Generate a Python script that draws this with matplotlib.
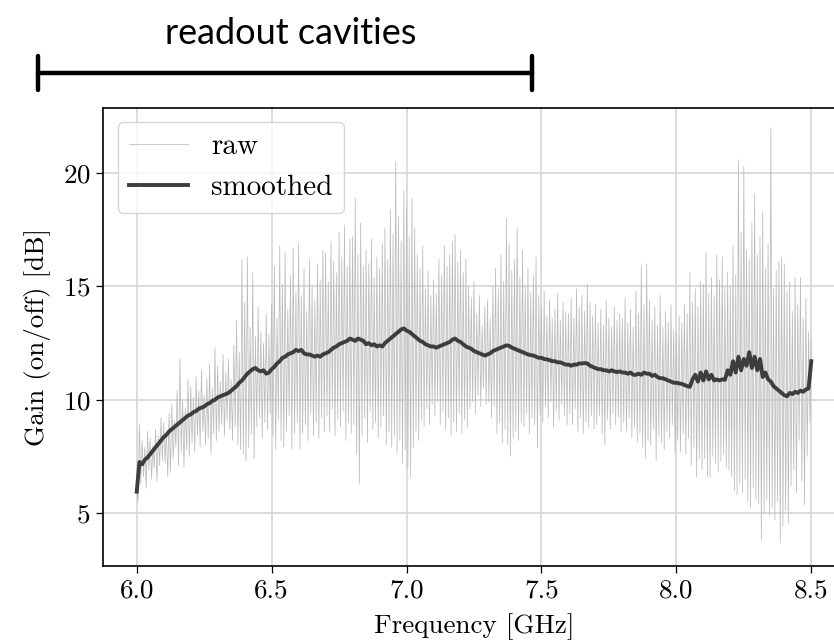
import numpy as np
import matplotlib
matplotlib.use("Agg")
import matplotlib.pyplot as plt
from matplotlib.lines import Line2D

plt.rcParams["font.family"] = "serif"
plt.rcParams["font.serif"] = ["cmr10"]
plt.rcParams["axes.formatter.use_mathtext"] = True
plt.rcParams["mathtext.fontset"] = "cm"

# raw trace: spike tops (every 10 MHz from 6.00 GHz) and troughs (halfway between)
raw_hi = [
    6.0, 8.9, 8.2, 7.9, 8.6, 8.3, 8.0, 8.7, 8.4, 9.2,
    9.0, 8.6, 9.4, 9.8, 9.1, 10.4, 11.8, 10.0, 9.6, 10.9,
    10.6, 10.1, 11.0, 10.4, 11.3, 10.2, 10.9, 11.6, 10.5, 12.3,
    11.5, 10.8, 12.0, 11.2, 11.8, 10.9, 12.4, 13.5, 12.1, 16.2,
    14.3, 16.3, 13.2, 15.6, 12.8, 14.1, 13.0, 12.5, 13.8, 12.9,
    14.2, 15.9, 13.6, 16.8, 15.1, 16.5, 14.0, 15.5, 16.7, 14.8,
    16.9, 14.6, 15.8, 13.9, 16.2, 15.0, 14.4, 16.0, 15.3, 16.6,
    16.5, 15.2, 17.0, 16.1, 15.6, 17.4, 16.3, 17.7, 15.9, 17.1,
    17.2, 18.9, 16.4, 17.8, 15.9, 16.6, 16.0, 17.1, 15.4, 16.3,
    15.8, 16.9, 17.6, 16.2, 18.4, 17.3, 20.5, 18.1, 17.0, 19.2,
    18.5, 17.2, 18.9, 17.6, 16.4, 15.8, 16.8, 14.9, 15.7, 14.6,
    15.3, 14.7, 16.2, 15.5, 16.8, 15.9, 16.4, 17.0, 17.3, 16.1,
    16.6, 15.6, 16.2, 15.0, 14.5, 15.2, 13.8, 14.6, 13.3, 14.1,
    14.4, 13.6, 15.0, 15.8, 14.9, 16.4, 15.2, 18.0, 16.9, 15.7,
    16.2, 17.6, 15.4, 16.6, 15.0, 15.8, 14.7, 15.5, 16.3, 14.6,
    14.1, 14.8, 13.7, 14.4, 13.6, 14.0, 14.7, 13.5, 14.3, 13.9,
    13.8, 14.5, 13.6, 14.9, 14.1, 14.6, 13.9, 15.1, 14.3, 13.7,
    14.2, 13.4, 14.0, 13.3, 14.4, 13.6, 13.2, 14.1, 13.5, 13.8,
    13.6, 14.5, 13.4, 14.0, 13.2, 14.8, 13.8, 15.9, 14.2, 16.0,
    14.4, 13.5, 14.1, 13.3, 14.6, 13.2, 13.9, 13.4, 14.2, 13.1,
    13.0, 13.7, 13.4, 14.2, 13.8, 15.6, 14.3, 14.9, 14.1, 15.2,
    15.1, 16.5, 14.7, 15.4, 14.6, 16.4, 15.3, 16.3, 15.0, 15.6,
    15.0, 16.8, 15.5, 20.6, 17.4, 20.3, 16.6, 16.2, 17.8, 19.1,
    16.4, 17.2, 18.3, 15.8, 16.9, 22.0, 14.9, 15.7, 16.1, 16.3,
    16.0, 14.8, 15.2, 13.9, 15.4, 14.2, 15.4, 13.6, 14.5, 13.0,
    12.7,
]
raw_lo = [
    5.5, 6.3, 6.6, 6.1, 6.9, 6.5, 7.0, 6.4, 7.1, 7.3,
    7.2, 6.6, 6.8, 7.4, 7.9, 7.1, 7.7, 7.0, 7.8, 7.5,
    8.1, 7.7, 8.4, 7.9, 8.6, 8.0, 8.3, 7.6, 8.5, 8.2,
    8.6, 8.9, 8.4, 9.1, 8.7, 8.2, 8.8, 8.0, 7.8, 7.6,
    7.3, 7.9, 8.5, 7.4, 8.8, 9.2, 8.3, 9.0, 8.7, 9.4,
    8.4, 7.8, 9.1, 8.2, 7.9, 8.6, 9.3, 7.8, 8.5, 9.0,
    7.8, 8.5, 8.9, 8.2, 9.4, 8.4, 9.0, 8.3, 9.2, 8.6,
    9.3, 8.6, 9.6, 8.4, 9.1, 8.8, 9.5, 8.2, 9.0, 8.5,
    8.9, 7.6, 6.3, 8.4, 9.2, 8.1, 9.5, 8.7, 9.0, 8.3,
    8.8, 9.3, 8.0, 8.6, 7.9, 8.4, 7.6, 8.2, 7.2, 7.8,
    7.0, 6.6, 7.9, 8.6, 8.2, 9.1, 8.8, 9.6, 8.9, 9.8,
    9.3, 9.9, 8.9, 9.5, 8.7, 9.2, 8.4, 9.0, 8.6, 9.4,
    8.5, 9.1, 8.8, 9.6, 9.9, 9.4, 10.2, 9.7, 10.5, 9.8,
    9.9, 9.2, 9.7, 8.5, 9.0, 8.1, 8.7, 8.0, 7.5, 8.3,
    8.6, 8.2, 9.0, 8.8, 9.4, 8.5, 9.2, 8.9, 7.9, 9.3,
    9.0, 9.7, 9.2, 9.9, 8.8, 9.5, 9.1, 9.8, 9.3, 8.9,
    9.4, 8.9, 9.6, 8.6, 9.2, 8.5, 9.0, 8.8, 9.3, 8.7,
    8.9, 9.3, 8.5, 8.0, 9.1, 8.7, 9.4, 8.9, 9.2, 8.6,
    9.0, 8.6, 9.2, 8.3, 8.8, 8.1, 8.5, 7.9, 7.4, 8.2,
    8.0, 8.7, 7.3, 8.4, 8.1, 7.8, 8.6, 8.3, 8.9, 7.6,
    8.2, 7.7, 8.5, 7.6, 8.3, 7.1, 7.9, 6.6, 7.4, 6.9,
    7.4, 6.6, 6.55, 7.5, 7.2, 6.8, 7.3, 7.6, 7.0, 6.9,
    6.6, 6.0, 5.8, 6.3, 5.9, 6.5, 5.5, 5.2, 6.1, 5.6,
    5.4, 3.8, 5.0, 5.6, 4.9, 5.2, 4.7, 5.5, 3.68, 4.4,
    5.1, 4.56, 6.2, 6.9, 5.9, 8.2, 6.4, 5.36, 7.5, 9.0,
]

# smoothed trace, every 10 MHz from 6.00 GHz
smoothed = [
    5.94, 7.25, 7.15, 7.35, 7.45, 7.6, 7.75, 7.9, 8.05, 8.2,
    8.35, 8.45, 8.6, 8.7, 8.8, 8.9, 9.0, 9.1, 9.2, 9.3,
    9.35, 9.45, 9.5, 9.6, 9.65, 9.7, 9.8, 9.85, 9.95, 10.0,
    10.1, 10.15, 10.2, 10.25, 10.3, 10.4, 10.5, 10.6, 10.75, 10.85,
    11.0, 11.15, 11.25, 11.35, 11.4, 11.3, 11.25, 11.3, 11.15, 11.2,
    11.35, 11.45, 11.6, 11.7, 11.85, 11.9, 12.0, 12.05, 12.1, 12.2,
    12.15, 12.2, 12.05, 12.0, 12.0, 11.95, 11.9, 11.95, 11.9, 12.0,
    12.05, 12.1, 12.2, 12.3, 12.35, 12.45, 12.5, 12.55, 12.6, 12.7,
    12.65, 12.6, 12.7, 12.65, 12.6, 12.45, 12.5, 12.4, 12.45, 12.35,
    12.4, 12.35, 12.5, 12.6, 12.7, 12.8, 12.9, 13.0, 13.1, 13.15,
    13.05, 13.0, 12.9, 12.8, 12.7, 12.6, 12.55, 12.45, 12.4, 12.35,
    12.35, 12.3, 12.35, 12.4, 12.45, 12.5, 12.55, 12.65, 12.7, 12.6,
    12.55, 12.45, 12.35, 12.3, 12.25, 12.15, 12.1, 12.05, 12.0, 11.95,
    12.0, 12.05, 12.15, 12.2, 12.25, 12.3, 12.35, 12.4, 12.38, 12.3,
    12.25, 12.2, 12.15, 12.1, 12.05, 12.0, 11.97, 11.95, 11.9, 11.85,
    11.85, 11.8, 11.78, 11.75, 11.7, 11.7, 11.65, 11.65, 11.6, 11.55,
    11.55, 11.5, 11.55, 11.55, 11.6, 11.6, 11.62, 11.6, 11.5, 11.45,
    11.4, 11.35, 11.35, 11.3, 11.3, 11.25, 11.3, 11.25, 11.22, 11.25,
    11.2, 11.2, 11.15, 11.2, 11.1, 11.1, 11.15, 11.1, 11.2, 11.15,
    11.15, 11.05, 11.1, 11.0, 10.95, 10.95, 10.9, 10.85, 10.8, 10.75,
    10.75, 10.72, 10.7, 10.65, 10.6, 10.57, 10.9, 11.1, 10.8, 11.2,
    10.85, 11.25, 10.9, 11.1, 10.85, 10.9, 10.85, 10.9, 10.88, 11.3,
    11.1, 11.7, 11.2, 11.9, 11.3, 11.8, 11.5, 12.1, 11.4, 11.9,
    11.3, 11.8, 11.0, 11.2, 10.9, 10.8, 10.6, 10.5, 10.4, 10.3,
    10.2, 10.15, 10.3, 10.25, 10.35, 10.3, 10.4, 10.35, 10.45, 10.5,
    11.7,
]

freq = np.linspace(6.0, 8.5, len(raw_hi))
freq_lo = freq[:-1] + 0.005

# interleave tops and troughs into one trace
raw_f = np.empty(len(freq) + len(freq_lo))
raw_g = np.empty_like(raw_f)
raw_f[0::2] = freq
raw_f[1::2] = freq_lo
raw_g[0::2] = raw_hi
raw_g[1::2] = raw_lo

fig = plt.figure(figsize=(8.34, 6.43), dpi=100)
ax = fig.add_axes([103 / 834, 77 / 643, 742 / 834, 458.5 / 643])

ax.plot(raw_f, raw_g, color="#bcbcbc", lw=0.55, label="raw")
ax.plot(freq, smoothed, color="#3d3d3d", lw=2.8, label="smoothed")

ax.set_xlim(5.875, 8.625)
ax.set_ylim(2.66, 22.9)
ax.set_xticks([6.0, 6.5, 7.0, 7.5, 8.0, 8.5])
ax.set_yticks([5, 10, 15, 20])
ax.set_xticklabels(["6.0", "6.5", "7.0", "7.5", "8.0", "8.5"])
ax.grid(True, color="#d5d5d5", lw=1.2)
ax.tick_params(labelsize=19.5, length=5, width=0.9, pad=4)
for s in ax.spines.values():
    s.set_linewidth(1.2)

ax.set_xlabel("Frequency [GHz]", fontsize=19.5, labelpad=8)
ax.set_ylabel("Gain (on/off) [dB]", fontsize=19.5, labelpad=8)
ax.legend(loc="upper left", fontsize=21)

# span marker above the axes
y_bar = 1 - 73 / 643
x0, x1 = 37.5 / 834, 532 / 834
cap = 17 / 643
kw = dict(transform=fig.transFigure, color="black", lw=3.2, solid_capstyle="round")
fig.add_artist(Line2D([x0, x1], [y_bar, y_bar], **kw))
fig.add_artist(Line2D([x0, x0], [y_bar - cap, y_bar + cap], **kw))
fig.add_artist(Line2D([x1, x1], [y_bar - cap, y_bar + cap], **kw))
fig.text(291 / 834, 1 - 34 / 643, "readout cavities", family="Lato",
         fontsize=26, ha="center", va="center")

fig.savefig("out.png", dpi=100)
